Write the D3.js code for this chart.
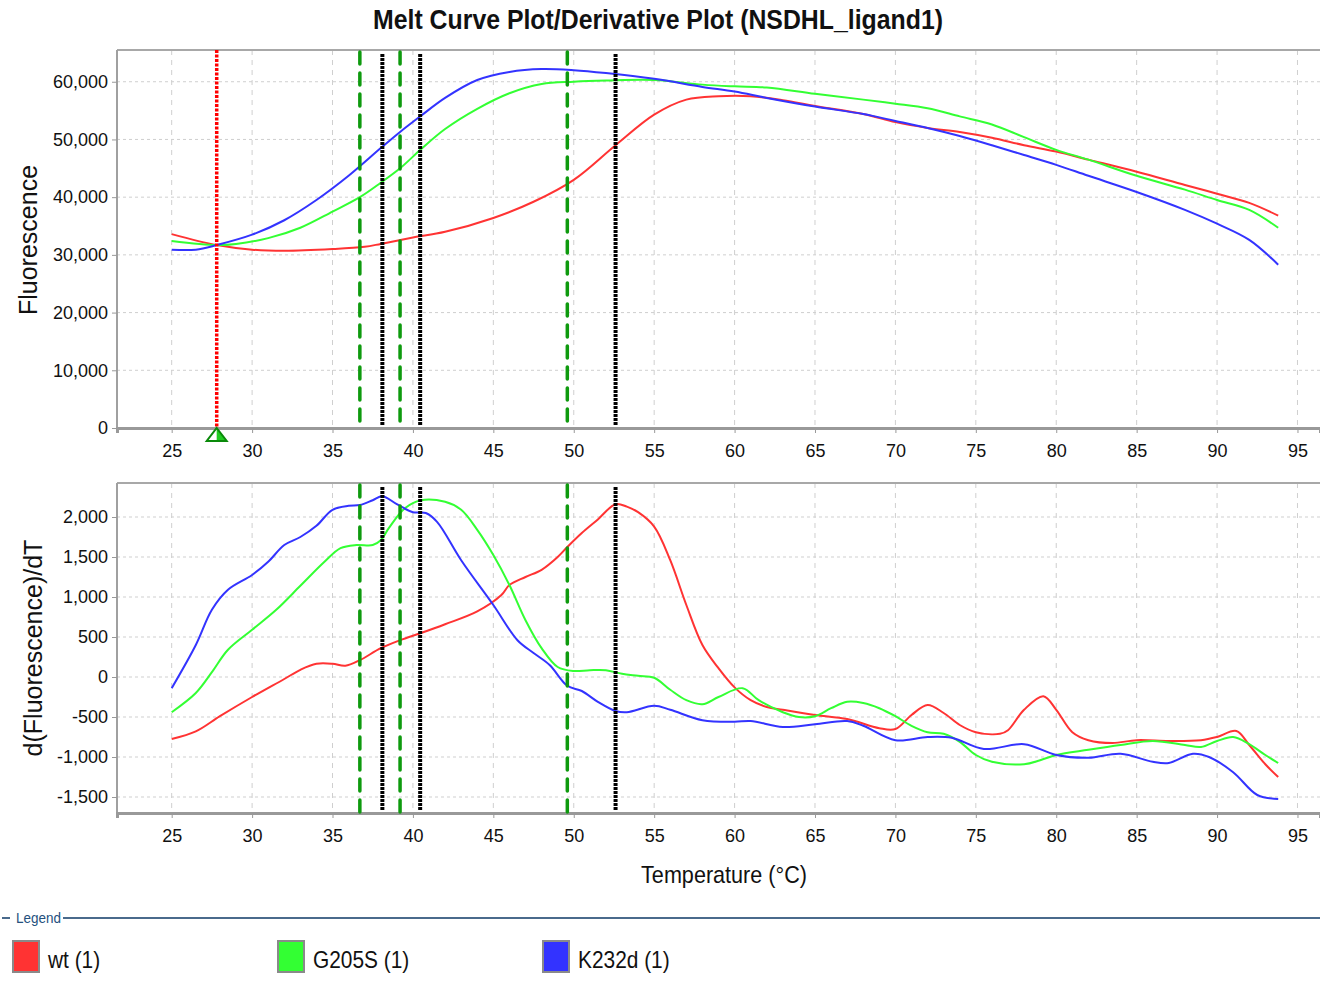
<!DOCTYPE html>
<html>
<head>
<meta charset="utf-8">
<script src="https://cdn.jsdelivr.net/npm/d3@7"></script>
<style>
  html, body { margin: 0; padding: 0; background: #fff; }
  svg { display: block; }
  text { font-family: "Liberation Sans", Arial, sans-serif; }
</style>
</head>
<body>
<svg id="chart" width="1320" height="985"></svg>
<script>
// ---------------- DATA ----------------
const chartTitle = "Melt Curve Plot/Derivative Plot (NSDHL_ligand1)";
const seriesNames = ["wt (1)", "G205S (1)", "K232d (1)"];
const seriesColors = ["#ff3333", "#33ff33", "#3333ff"];
const xTicks = [25, 30, 35, 40, 45, 50, 55, 60, 65, 70, 75, 80, 85, 90, 95];
const meltTicks = [0, 10000, 20000, 30000, 40000, 50000, 60000];
const derivTicks = [-1500, -1000, -500, 0, 500, 1000, 1500, 2000];

// Fluorescence melt curves: [temperature, fluorescence]
const wtMelt = [[25,33600],[27.8,31700],[30,30900],[32,30700],[35,31000],[37,31400],[38,31900],[40,33000],[42,34000],[45,36400],[47.5,39200],[50,43000],[52.6,49000],[55,54300],[57,56900],[59,57500],[61,57500],[63,56800],[65,55800],[68,54400],[70,53000],[72,52000],[74,51300],[76,50300],[78,49000],[80,47900],[82,46500],[85,44400],[88,42100],[90,40600],[92,39000],[93.8,36800]];
const g205sMelt = [[25,32400],[27.8,31700],[29,31900],[31,32900],[33,34700],[35,37500],[36.7,40000],[38,42500],[39.2,45000],[40.5,48300],[42,51800],[44,55300],[46,58000],[48,59600],[50,60000],[52,60200],[55,60300],[58,59500],[60,59200],[62,59000],[65,57900],[68,56900],[70,56200],[72,55400],[74,54000],[76,52600],[78,50400],[80,48200],[82,46500],[85,43700],[88,41300],[90,39500],[92,37800],[93.8,34700]];
const k232dMelt = [[25,30900],[26.5,30900],[27.8,31700],[30,33500],[32,36000],[34,39500],[36,43700],[38,48500],[39.2,51300],[40.5,54100],[42,57200],[44,60300],[46,61700],[48,62200],[50,62000],[52,61500],[55,60500],[58,59100],[60,58300],[62,57200],[65,55700],[68,54400],[70,53200],[72,52000],[74,50600],[76,49000],[78,47300],[80,45600],[82,43700],[85,40900],[88,37800],[90,35400],[92,32600],[93.8,28300]];

// Derivative curves: [temperature, d(F)/dT]
const wtDeriv = [[25,-775],[26.5,-680],[28,-490],[30,-250],[32,-25],[33,90],[34,165],[35,165],[35.8,140],[36.7,210],[38,360],[39.2,460],[40.5,550],[42,660],[44,820],[45.5,1025],[46,1150],[47,1250],[48,1340],[49,1500],[49.6,1625],[50.5,1800],[51.5,1970],[52.6,2160],[53.3,2130],[54,2060],[55,1880],[56,1460],[57,900],[58,400],[59,110],[60,-130],[61,-290],[62,-375],[63,-410],[65,-475],[67,-525],[69,-640],[70,-650],[71,-475],[72,-350],[73,-450],[74,-600],[75,-690],[76.5,-710],[77,-665],[78,-410],[79.2,-240],[80,-410],[81,-690],[82,-790],[83.5,-825],[85,-790],[87,-800],[89,-790],[90,-750],[91.2,-675],[92,-850],[93,-1090],[93.8,-1250]];
const g205sDeriv = [[25,-440],[26.5,-200],[27.5,60],[28.5,340],[30,590],[31.5,840],[33,1140],[34.5,1440],[35.5,1610],[36.5,1650],[37.5,1650],[38,1710],[38.5,1860],[39.5,2110],[40.5,2210],[42,2190],[43,2090],[44,1840],[45,1525],[46,1150],[47,710],[48,360],[49,125],[50,75],[51,85],[52,85],[53,40],[54,15],[55,-10],[56,-160],[57,-290],[58,-340],[59,-250],[60.5,-140],[61.5,-290],[63,-440],[64,-500],[65,-490],[66,-390],[67,-310],[68,-325],[69,-390],[70,-490],[71,-610],[72,-690],[73,-710],[74,-810],[75,-975],[76,-1060],[78,-1090],[79,-1040],[80,-975],[82,-910],[84,-850],[86,-800],[88,-850],[89,-875],[90,-800],[91,-750],[92,-840],[93,-975],[93.8,-1075]];
const k232dDeriv = [[25,-140],[26.5,400],[27.5,840],[28.5,1090],[30,1275],[31,1440],[32,1650],[33,1750],[34,1890],[35,2090],[36,2140],[36.7,2150],[37.5,2210],[38.1,2260],[39,2160],[40,2060],[40.8,2050],[41.5,1940],[43,1460],[45,900],[46.5,460],[47.5,300],[48.5,150],[49.6,-110],[50.5,-175],[51.5,-310],[52.6,-425],[53.3,-440],[55,-360],[56,-410],[58,-540],[60,-560],[61,-550],[63,-625],[65,-590],[67,-550],[68,-610],[70,-790],[72,-750],[73.5,-760],[75.5,-900],[78,-840],[80,-975],[82,-1010],[84,-960],[86,-1060],[87,-1075],[88.5,-960],[89.5,-1000],[91,-1190],[92.5,-1475],[93.8,-1525]];

// Marker lines (temperatures)
const thresholdTemp = 27.8;                  // red dotted line
const greenMarkerTemps = [36.7, 39.2, 49.6]; // green dashed lines
const blackMarkerTemps = [38.1, 40.45, 52.6]; // black dotted lines

// ---------------- DRAW ----------------
const svg = d3.select("#chart");
const W = 1320;
const plotLeft = 117, plotRight = 1320;
const topPanel = { top: 50, bottom: 428 };
const botPanel = { top: 483, bottom: 813 };

const x = d3.scaleLinear().domain([21.6, 96.4]).range([plotLeft, plotRight]);
const yTop = d3.scaleLinear().domain([0, 65500]).range([topPanel.bottom, topPanel.top]);
const yBot = d3.scaleLinear().domain([-1700, 2425]).range([botPanel.bottom, botPanel.top]);

const fmtComma = d3.format(",");
const fmt = d => fmtComma(d).replace("\u2212", "-");

// condensed text helper: horizontally squeezed text anchored at (ax, ay)
function condensedText(parent, ax, ay, sx, anchor) {
  return parent.append("text")
    .attr("transform", `translate(${ax},${ay}) scale(${sx},1)`)
    .attr("text-anchor", anchor);
}

// Title
condensedText(svg, 658, 29, 0.92, "middle")
  .style("font-weight", "bold").style("font-size", "27px").attr("fill", "#111")
  .text(chartTitle);

function panel(y, panelDef, yTicks, seriesList, showTriangle) {
  const g = svg.append("g");
  // grid
  g.append("g").selectAll("line").data(xTicks).join("line")
    .attr("x1", d => x(d)).attr("x2", d => x(d))
    .attr("y1", panelDef.top).attr("y2", panelDef.bottom)
    .attr("stroke", "#cfcfcf").attr("stroke-width", 1).attr("stroke-dasharray", "5,5");
  g.append("g").selectAll("line").data(yTicks).join("line")
    .attr("x1", plotLeft).attr("x2", plotRight)
    .attr("y1", d => y(d)).attr("y2", d => y(d))
    .attr("stroke", "#cfcfcf").attr("stroke-width", 1).attr("stroke-dasharray", "3,3");

  // frame
  g.append("line").attr("x1", plotLeft).attr("x2", plotRight)
    .attr("y1", panelDef.top).attr("y2", panelDef.top)
    .attr("stroke", "#a8a8a8").attr("stroke-width", 2);
  g.append("line").attr("x1", plotLeft).attr("x2", plotLeft)
    .attr("y1", panelDef.top).attr("y2", panelDef.bottom)
    .attr("stroke", "#a0a0a0").attr("stroke-width", 2);

  // axes
  const xAxis = d3.axisBottom(x).tickValues(xTicks).tickSize(5).tickPadding(11).tickFormat(d3.format("d"));
  const gx = g.append("g").attr("transform", `translate(0,${panelDef.bottom})`).call(xAxis);
  gx.select(".domain").attr("stroke", "#999").attr("stroke-width", 3);
  gx.selectAll(".tick line").attr("stroke", "#999");
  gx.selectAll("text").style("font-size", "18px").attr("fill", "#111");

  const yAxis = d3.axisLeft(y).tickValues(yTicks).tickSize(5).tickPadding(4).tickFormat(fmt);
  const gy = g.append("g").attr("transform", `translate(${plotLeft},0)`).call(yAxis);
  gy.select(".domain").remove();
  gy.selectAll(".tick line").attr("stroke", "#999");
  gy.selectAll("text").style("font-size", "18px").attr("fill", "#111");

  const line = d3.line().x(d => x(d[0])).y(d => y(d[1])).curve(d3.curveCatmullRom.alpha(0.5));
  seriesList.forEach((s, i) => {
    g.append("path").datum(s).attr("d", line)
      .attr("fill", "none").attr("stroke", seriesColors[i]).attr("stroke-width", 2);
  });

  // red dotted threshold line (top only)
  if (showTriangle) {
    g.append("line").attr("x1", x(thresholdTemp)).attr("x2", x(thresholdTemp))
      .attr("y1", panelDef.top).attr("y2", panelDef.bottom)
      .attr("stroke", "#ff0000").attr("stroke-width", 3.5).attr("stroke-dasharray", "3,1.5");
    const cx = x(thresholdTemp), by = panelDef.bottom + 13, ty = panelDef.bottom;
    g.append("path").attr("d", `M${cx},${ty} L${cx + 10},${by} L${cx},${by} Z`).attr("fill", "#22cc22");
    g.append("path").attr("d", `M${cx},${ty} L${cx + 10},${by} L${cx - 10},${by} Z`)
      .attr("fill", "none").attr("stroke", "#0a8a0a").attr("stroke-width", 2);
  }

  // green dashed markers
  g.append("g").selectAll("line").data(greenMarkerTemps).join("line")
    .attr("x1", d => x(d)).attr("x2", d => x(d))
    .attr("y1", panelDef.top + 2).attr("y2", panelDef.bottom)
    .attr("stroke", "#0e9a0e").attr("stroke-width", 3.5).attr("stroke-linecap", "round")
    .attr("stroke-dasharray", "12,9");
  // black dotted markers
  g.append("g").selectAll("line").data(blackMarkerTemps).join("line")
    .attr("x1", d => x(d)).attr("x2", d => x(d))
    .attr("y1", panelDef.top + 4).attr("y2", panelDef.bottom - 2)
    .attr("stroke", "#000").attr("stroke-width", 4)
    .attr("stroke-dasharray", "3,1");
}

panel(yTop, topPanel, meltTicks, [wtMelt, g205sMelt, k232dMelt], true);
panel(yBot, botPanel, derivTicks, [wtDeriv, g205sDeriv, k232dDeriv], false);

// axis titles
svg.append("text").attr("transform", "translate(37,240) rotate(-90)")
  .attr("text-anchor", "middle").style("font-size", "25px").attr("fill", "#111")
  .text("Fluorescence");
svg.append("text").attr("transform", "translate(42,648) rotate(-90)")
  .attr("text-anchor", "middle").style("font-size", "25px").attr("fill", "#111")
  .text("d(Fluorescence)/dT");
condensedText(svg, 724, 883, 0.9, "middle")
  .style("font-size", "24px").attr("fill", "#111")
  .text("Temperature (°C)");

// Legend
const legY = 918;
svg.append("line").attr("x1", 2).attr("x2", 10).attr("y1", legY).attr("y2", legY)
  .attr("stroke", "#4a6a8c").attr("stroke-width", 2);
svg.append("line").attr("x1", 63).attr("x2", W).attr("y1", legY).attr("y2", legY)
  .attr("stroke", "#4a6a8c").attr("stroke-width", 2);
condensedText(svg, 16, 923, 0.9, "start")
  .style("font-size", "15px").attr("fill", "#24507e").text("Legend");

const legX = [13, 278, 543];
const leg = svg.append("g").selectAll("g").data(seriesNames).join("g")
  .attr("transform", (d, i) => `translate(${legX[i]},941)`);
leg.append("rect").attr("width", 26).attr("height", 31)
  .attr("fill", (d, i) => seriesColors[i]).attr("stroke", "#8a8a8a").attr("stroke-width", 2);
leg.append("text").attr("transform", "translate(35,27) scale(0.87,1)")
  .style("font-size", "24px").attr("fill", "#111").text(d => d);
</script>
</body>
</html>
